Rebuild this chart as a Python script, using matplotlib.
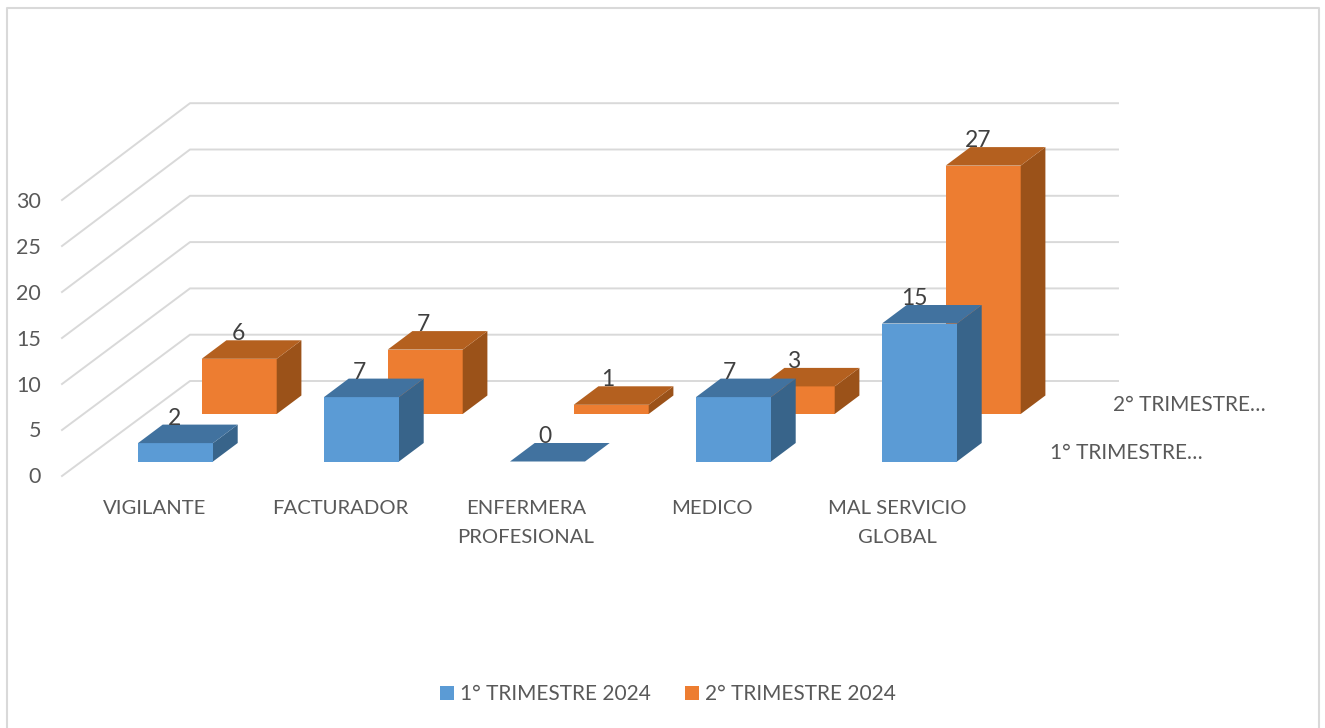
import matplotlib
matplotlib.use('Agg')
import matplotlib.pyplot as plt
from matplotlib.patches import Polygon, Patch

plt.rcParams['font.family'] = ['Lato', 'DejaVu Sans']

# data
categorias = ['VIGILANTE', 'FACTURADOR', 'ENFERMERA\nPROFESIONAL', 'MEDICO', 'MAL SERVICIO\nGLOBAL']
trimestre_1 = [2, 7, 0, 7, 15]
trimestre_2 = [6, 7, 1, 3, 27]
nombres = ['1° TRIMESTRE 2024', '2° TRIMESTRE 2024']
nombres_cortos = ['1° TRIMESTRE…', '2° TRIMESTRE…']
ticks_y = [0, 5, 10, 15, 20, 25, 30]

# layout of the oblique projection, in pixels
PX_POR_UNIDAD = 9.2
PX_PARED = 9.26
BASE_X = 138
BASE_Y = 461.5
PASO_CAT = 186
ANCHO = 75
FONDO = (24.7, -18.5)       # depth of one box
PASO_SERIE = (63.7, -47.5)  # shift from the first row to the second

GRIS_REJILLA = '#d9d9d9'
GRIS_TEXTO = '#595959'
GRIS_DATOS = '#404040'
COLORES = [('#5b9bd5', '#41729f', '#38648a'), ('#ed7d31', '#b4601f', '#9b5219')]


def caja(ax, i, serie, valor, colores):
    frente, tapa, lado = colores
    x0 = BASE_X + i * PASO_CAT + serie * PASO_SERIE[0]
    y0 = BASE_Y + serie * PASO_SERIE[1]
    x1 = x0 + ANCHO
    arriba = y0 - valor * PX_POR_UNIDAD
    dx, dy = FONDO
    if valor > 0:
        ax.add_patch(Polygon([(x0, y0), (x1, y0), (x1, arriba), (x0, arriba)], fc=frente, ec='none', zorder=3))
        ax.add_patch(Polygon([(x1, y0), (x1 + dx, y0 + dy), (x1 + dx, arriba + dy), (x1, arriba)], fc=lado, ec='none', zorder=3))
    ax.add_patch(Polygon([(x0, arriba), (x1, arriba), (x1 + dx, arriba + dy), (x0 + dx, arriba + dy)], fc=tapa, ec='none', zorder=3))
    # the labels drift a little to the left across the categories
    ax.text((x0 + x1) / 2 - 1 - i, arriba + dy - 6.5, str(valor), ha='center', va='center',
            fontsize=16.5, color=GRIS_DATOS, zorder=5)


fig = plt.figure(figsize=(13.25, 7.28), dpi=100)
ax = fig.add_axes([0, 0, 1, 1])
ax.set_xlim(0, 1325)
ax.set_ylim(728, 0)
ax.axis('off')

# chart frame, open at the bottom
ax.plot([7, 7, 1319, 1319], [728, 8, 8, 728], color=GRIS_REJILLA, lw=1.5, zorder=1)

# walls: horizontal grid on the back, diagonals on the left
for t in ticks_y:
    y_atras = 381 - t * PX_PARED
    y_frente = 476 - t * PX_POR_UNIDAD
    ax.plot([62, 190, 1118], [y_frente, y_atras, y_atras], color=GRIS_REJILLA, lw=1.4, zorder=1)
    ax.text(41, 477 - t * 9.15, str(t), ha='right', va='center', fontsize=15.5, color=GRIS_TEXTO)

# back row first so the front row covers it
for i, v in enumerate(trimestre_2):
    caja(ax, i, 1, v, COLORES[1])
for i, v in enumerate(trimestre_1):
    caja(ax, i, 0, v, COLORES[0])

# category labels
for i, c in enumerate(categorias):
    ax.text(155 + i * 185.5, 499.5, c, ha='center', va='top', fontsize=14.6, color=GRIS_TEXTO, linespacing=1.87)

# series labels on the depth axis
ax.text(1050, 453, nombres_cortos[0], ha='left', va='center', fontsize=15, color=GRIS_TEXTO)
ax.text(1113, 405, nombres_cortos[1], ha='left', va='center', fontsize=15, color=GRIS_TEXTO)

handles = [Patch(fc=COLORES[0][0], lw=0, label=nombres[0]), Patch(fc=COLORES[1][0], lw=0, label=nombres[1])]
ax.legend(handles=handles, loc='center', bbox_to_anchor=(668 / 1325, 1 - 694 / 728), ncol=2, frameon=False,
          fontsize=15, labelcolor=GRIS_TEXTO, handlelength=0.67, handleheight=0.67, handletextpad=0.3,
          columnspacing=1.65)

fig.savefig('out.png', dpi=100)
